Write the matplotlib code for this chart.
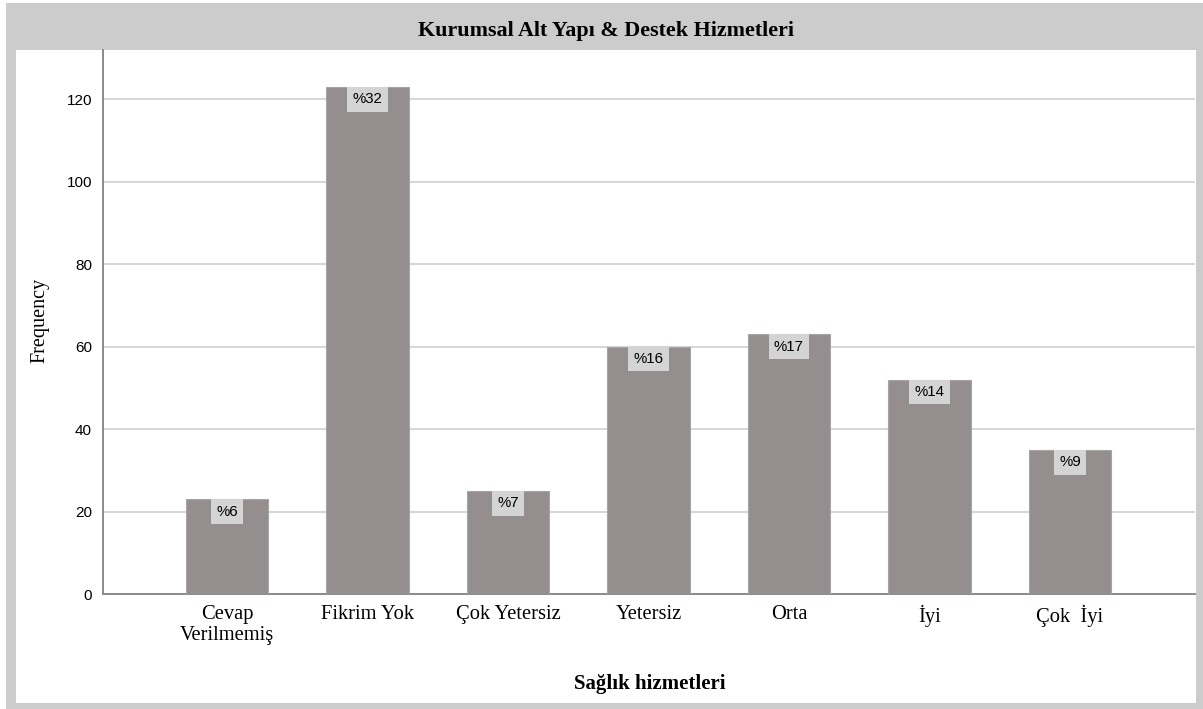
import matplotlib
matplotlib.use("Agg")
import matplotlib.pyplot as plt
from matplotlib.patches import Rectangle

categories = ["Cevap\nVerilmemiş", "Fikrim Yok", "Çok Yetersiz", "Yetersiz", "Orta", "İyi", "Çok  İyi"]
frequencies = [23, 123, 25, 60, 63, 52, 35]
percent_labels = ["%6", "%32", "%7", "%16", "%17", "%14", "%9"]
y_ticks = [0, 20, 40, 60, 80, 100, 120]

W, H = 1203, 709
fig = plt.figure(figsize=(W / 100, H / 100), dpi=100)
fig.patch.set_facecolor("white")

def px_rect(x0, y0, x1, y1, color, z):
    fig.patches.append(Rectangle((x0 / W, 1 - y1 / H), (x1 - x0) / W, (y1 - y0) / H,
                                 transform=fig.transFigure, facecolor=color,
                                 edgecolor="none", zorder=z))

px_rect(6, 3, 1203, 709, "#cccccc", -10)
px_rect(16, 50, 1196, 703, "white", -9)

ax = fig.add_axes([103 / W, 1 - 594 / H, (1195 - 103) / W, (594 - 50) / H])
ax.set_facecolor("white")
x = list(range(len(categories)))
ax.bar(x, frequencies, width=0.59, color="#948f8e", edgecolor="#a9a5a4", linewidth=0.8, zorder=3)

for xi, v, lab in zip(x, frequencies, percent_labels):
    ax.annotate(lab, (xi, v), xytext=(0, -4), textcoords="offset points",
                ha="center", va="top", fontsize=10.8, family="Liberation Sans",
                color="black", zorder=5,
                bbox=dict(boxstyle="square,pad=0.36", facecolor="#d4d4d4", edgecolor="none"))

ax.set_xlim(-0.883, 6.89)
ax.set_ylim(0, 131.9)
ax.set_yticks(y_ticks)
ax.set_yticklabels([str(t) for t in y_ticks], family="Liberation Sans", fontsize=11)
ax.set_xticks(x)
ax.set_xticklabels(categories, family="Liberation Serif", fontsize=14.8, linespacing=1.15)
ax.tick_params(axis="y", length=0, pad=8)
ax.tick_params(axis="x", length=0, pad=8)
ax.grid(axis="y", color="#d6d6d6", linewidth=1.4, zorder=0)
ax.set_axisbelow(True)
for s in ["top", "right"]:
    ax.spines[s].set_visible(False)
for s in ["left", "bottom"]:
    ax.spines[s].set_color("#8a8a8a")
    ax.spines[s].set_linewidth(1.4)

fig.text(0.5 * (16 + 1196) / W, 1 - 31 / H, "Kurumsal Alt Yapı & Destek Hizmetleri",
         ha="center", va="center", family="Liberation Serif", fontweight="bold", fontsize=15.8)
fig.text(650 / W, 1 - 684 / H, "Sağlık hizmetleri", ha="center", va="center",
         family="Liberation Serif", fontweight="bold", fontsize=15)
fig.text(40 / W, 1 - 320 / H, "Frequency", ha="center", va="center", rotation=90,
         family="Liberation Serif", fontsize=14.5)

fig.savefig("out.png", dpi=100)
